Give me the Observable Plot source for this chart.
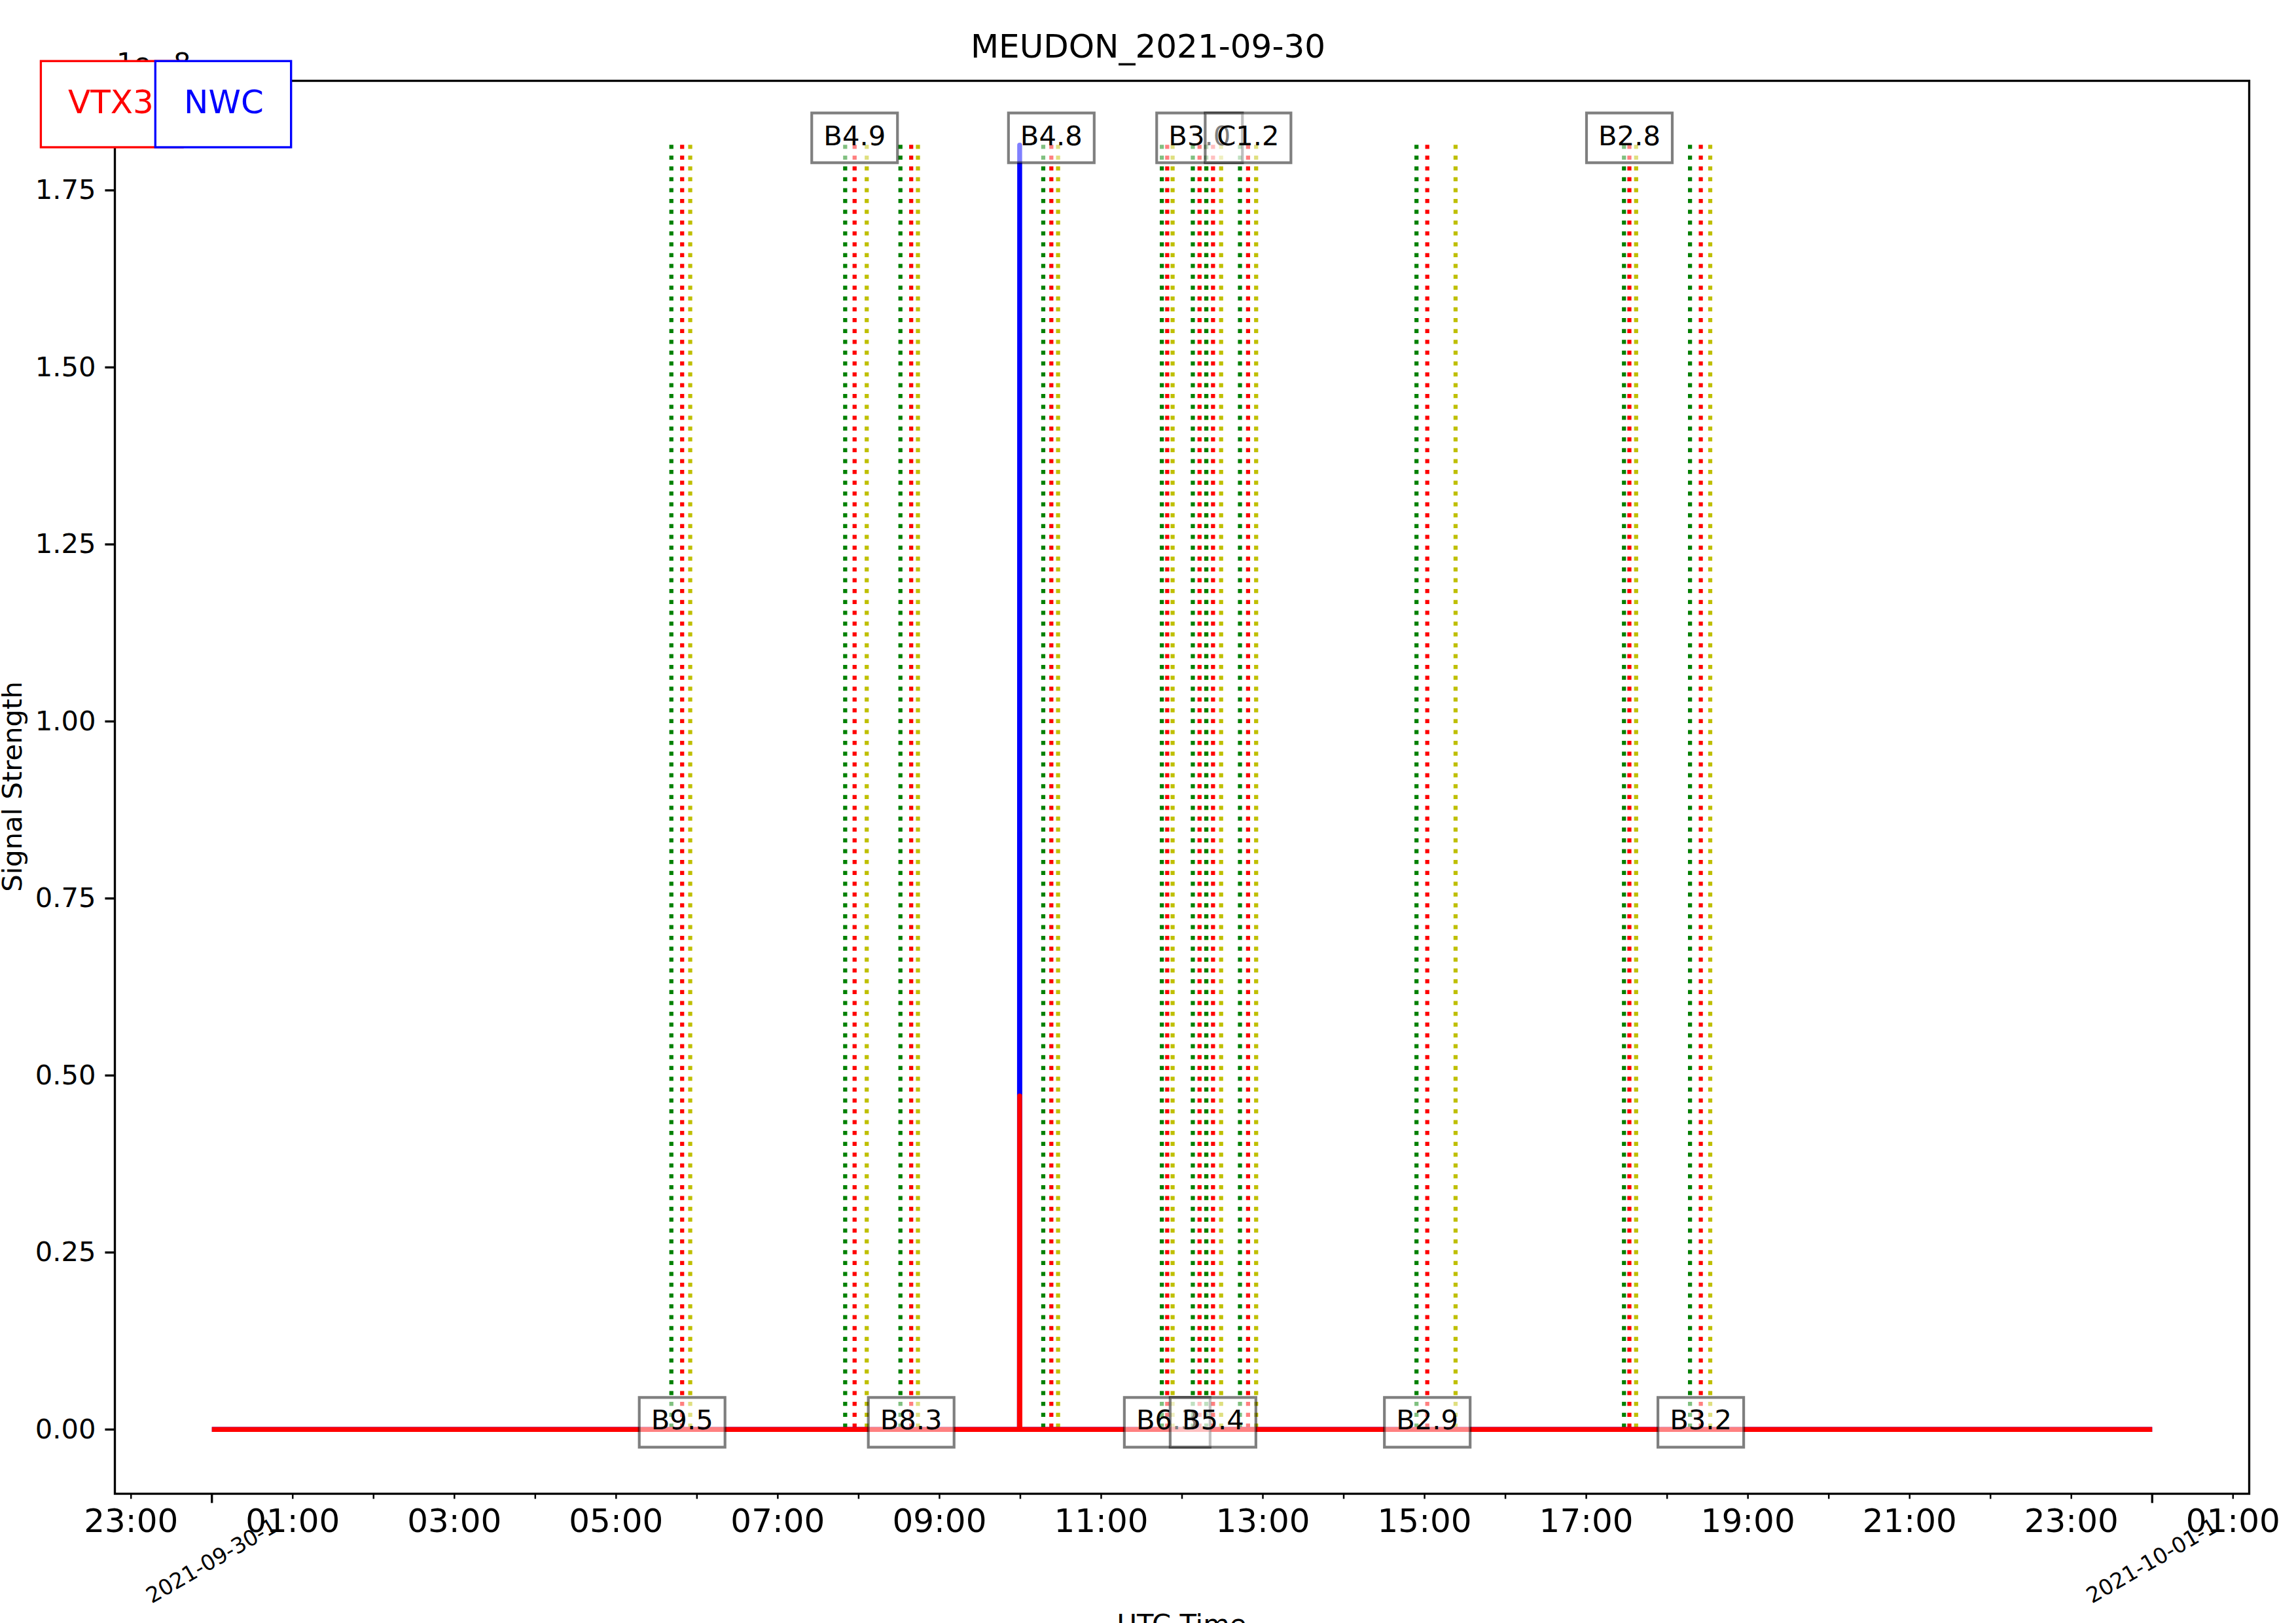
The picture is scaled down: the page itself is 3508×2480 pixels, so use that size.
<!DOCTYPE html>
<html>
<head>
<meta charset="utf-8">
<script src="https://cdn.jsdelivr.net/npm/d3@7"></script>
<script src="https://cdn.jsdelivr.net/npm/@observablehq/plot@0.6"></script>
<style>
  html, body { margin: 0; padding: 0; background: #fff; overflow: hidden; }
  #wrap { position: relative; width: 3508px; height: 2480px; overflow: hidden; background: #fff; font-family: "DejaVu Sans", sans-serif; }
  #wrap > svg { position: absolute; left: 0; top: 0; }
</style>
</head>
<body>
<div id="wrap"></div>
<script>
// ---------------- data ----------------
const day = "2021-09-30";
const titleText = "MEUDON_2021-09-30";

// flare events (UTC): class label, start, peak, end
const flareClass = ["B9.5", "B4.9", "B8.3", "B4.8", "B6.3", "B3.0", "B5.4", "C1.2", "B2.9", "B2.8", "B3.2"];
const flareStart = ["05:41", "07:50", "08:31", "10:17", "11:45", "12:08", "12:18", "12:43", "14:54", "17:28", "18:17"];
const flarePeak  = ["05:49", "07:57", "08:39", "10:23", "11:49", "12:13", "12:23", "12:49", "15:02", "17:32", "18:25"];
const flareEnd   = ["05:55", "08:06", "08:44", "10:28", "11:53", "12:18", "12:29", "12:55", "15:23", "17:37", "18:32"];

// signal strength (units of 1e-8)
const vtx3Time  = ["2021-09-30T00:00:00Z", "2021-09-30T09:59:20Z", "2021-09-30T09:59:30Z", "2021-09-30T09:59:40Z", "2021-10-01T00:00:00Z"];
const vtx3Value = [0, 0, 0.471, 0, 0];
const nwcTime   = ["2021-09-30T00:00:00Z", "2021-09-30T09:59:20Z", "2021-09-30T09:59:30Z", "2021-09-30T09:59:40Z", "2021-10-01T00:00:00Z"];
const nwcValue  = [0, 0, 1.814, 0, 0];

// axis ticks / labels
const yTicks = [0, 0.25, 0.5, 0.75, 1.0, 1.25, 1.5, 1.75];
const dateTicks  = ["2021-09-30T00:00:00Z", "2021-10-01T00:00:00Z"];
const dateLabels = ["2021-09-30-1", "2021-10-01-1"];
const seriesNames = ["VTX3", "NWC"];

// ---------------- build ----------------
const T = s => new Date(`${day}T${s}:00Z`);
const vtx3 = vtx3Time.map((t, i) => ({t: new Date(t), v: vtx3Value[i]}));
const nwc = nwcTime.map((t, i) => ({t: new Date(t), v: nwcValue[i]}));
const ymax = d3.max([...vtx3Value, ...nwcValue]);

const flares = flareClass.map((c, i) => ({
  cls: c, start: T(flareStart[i]), peak: T(flarePeak[i]), end: T(flareEnd[i]),
  ly: i % 2 === 0 ? 0 : ymax
}));
const vlines = flares.flatMap(f => [
  {t: f.start, c: "#008000"},
  {t: f.peak, c: "#ff0000"},
  {t: f.end, c: "#bfbf00"}
]);

const t0 = new Date(vtx3Time[0]), t1 = new Date(vtx3Time[vtx3Time.length - 1]);
const pad = 0.05 * (t1 - t0);
const xDomain = [new Date(+t0 - pad), new Date(+t1 + pad)];
const yDomain = [-0.05 * ymax, 1.05 * ymax];

const hourTicks = d3.utcHours(xDomain[0], xDomain[1]);
const hourFmt = d3.utcFormat("%H:%M");

const boxSymbol = {
  draw(ctx) {
    ctx.moveTo(-65.5, -49); ctx.lineTo(65.5, -49); ctx.lineTo(65.5, 27); ctx.lineTo(-65.5, 27); ctx.closePath();
  }
};

const labelMarks = flares.flatMap(f => [
  Plot.dot([f], {x: "peak", y: "ly", symbol: boxSymbol, r: 1, fill: "white", fillOpacity: 0.5,
    stroke: "black", strokeOpacity: 0.5, strokeWidth: 4.17}),
  Plot.text([f], {x: "peak", y: "ly", text: "cls", fontSize: 41.7, lineAnchor: "bottom",
    textAnchor: "middle", fill: "black"})
]);

const chart = Plot.plot({
  width: 3508, height: 2480,
  marginLeft: 175, marginRight: 72, marginTop: 123, marginBottom: 198,
  style: {fontFamily: "DejaVu Sans", background: "white", color: "black"},
  x: {type: "utc", domain: xDomain},
  y: {domain: yDomain},
  color: {type: "identity"},
  marks: [
    Plot.ruleX(vlines, {x: "t", y1: ymax, y2: 0, stroke: "c", strokeWidth: 6.25, strokeDasharray: "6.25,10.31"}),
    Plot.line(nwc, {x: "t", y: "v", stroke: "#0000ff", strokeWidth: 7.5, strokeLinecap: "butt"}),
    Plot.line(vtx3, {x: "t", y: "v", stroke: "#ff0000", strokeWidth: 7.5, strokeLinecap: "butt"}),
    ...labelMarks,
    Plot.frame({stroke: "black", strokeWidth: 3.33}),
    Plot.axisY({ticks: yTicks, tickFormat: d3.format(".2f"), tickSize: 14.6, tickPadding: 14.4,
      fontSize: 41.7, label: null, strokeWidth: 3.33}),
    Plot.axisX({ticks: hourTicks, tickSize: 8.3, tickPadding: 14.7,
      tickFormat: d => d.getUTCHours() % 2 === 1 ? hourFmt(d) : "",
      fontSize: 50, label: null, strokeWidth: 2.5}),
    Plot.axisX({ticks: dateTicks.map(d => new Date(d)), tickSize: 14.6, tickFormat: () => "",
      label: null, strokeWidth: 3.33}),
    Plot.text(dateTicks.map((d, i) => ({t: new Date(d), s: dateLabels[i]})),
      {x: "t", text: "s", frameAnchor: "bottom", dy: 103, rotate: -30, fontSize: 33,
       textAnchor: "middle", lineAnchor: "middle", fill: "black"})
  ]
});

const wrap = document.getElementById("wrap");
wrap.appendChild(chart);

// ---------------- overlay: title, axis labels, offset text, legend ----------------
const ov = d3.select(wrap).append("svg")
  .attr("width", 3508).attr("height", 2480)
  .style("font-family", "DejaVu Sans");

ov.append("text").attr("x", 1754).attr("y", 88).attr("text-anchor", "middle")
  .attr("font-size", 50).text(titleText);
ov.append("text").attr("transform", "translate(33,1202) rotate(-90)").attr("text-anchor", "middle")
  .attr("font-size", 41.7).text("Signal Strength");
ov.append("text").attr("x", 1805.5).attr("y", 2496).attr("text-anchor", "middle")
  .attr("font-size", 41.7).text("UTC Time");
ov.append("text").attr("x", 178).attr("y", 110).attr("font-size", 41.7).text("1e\u22128");

// legend boxes
ov.append("rect").attr("x", 62.4).attr("y", 93.3).attr("width", 216.6).attr("height", 131.7)
  .attr("fill", "white").attr("stroke", "#ff0000").attr("stroke-width", 3.33);
ov.append("text").attr("x", 104).attr("y", 173).attr("font-size", 50).attr("fill", "#ff0000").text(seriesNames[0]);
ov.append("rect").attr("x", 237.3).attr("y", 93.3).attr("width", 207.4).attr("height", 131.7)
  .attr("fill", "white").attr("stroke", "#0000ff").attr("stroke-width", 3.33);
ov.append("text").attr("x", 342).attr("y", 173).attr("text-anchor", "middle").attr("font-size", 50)
  .attr("fill", "#0000ff").text(seriesNames[1]);
</script>
</body>
</html>
